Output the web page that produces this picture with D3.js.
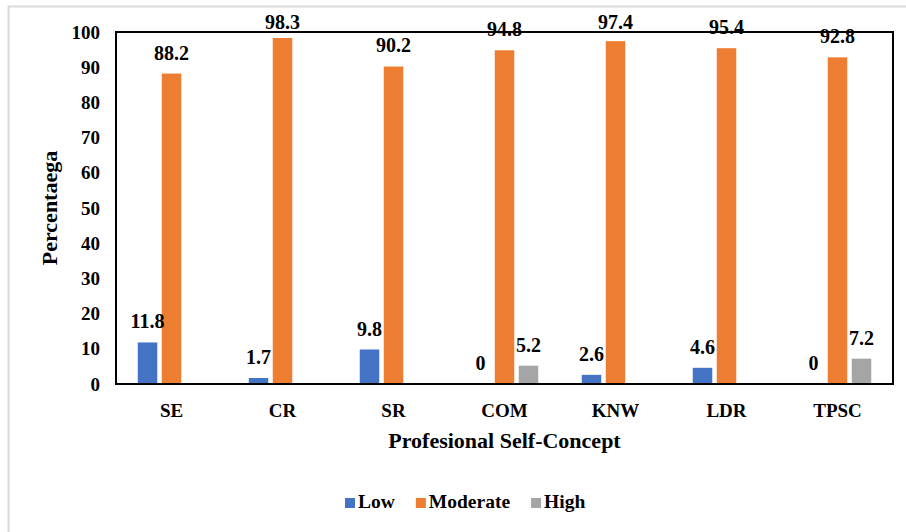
<!DOCTYPE html>
<html>
<head>
<meta charset="utf-8">
<script src="https://cdn.jsdelivr.net/npm/d3@7"></script>
<style>
  body { margin: 0; background: #fff; }
</style>
</head>
<body>
<svg id="chart"></svg>
<script>
'use strict';
// chart values
var categories = ['SE', 'CR', 'SR', 'COM', 'KNW', 'LDR', 'TPSC'];
var series = ['Low', 'Moderate', 'High'];
var lowValues = [11.8, 1.7, 9.8, 0, 2.6, 4.6, 0];
var moderateValues = [88.2, 98.3, 90.2, 94.8, 97.4, 95.4, 92.8];
var highValues = [null, null, null, 5.2, null, null, 7.2];
var yTicks = [0, 10, 20, 30, 40, 50, 60, 70, 80, 90, 100];
var colors = ['#4472C4', '#ED7D31', '#A5A5A5'];

var FONT = '"Liberation Serif", serif';

var canvasWidth = 906;
var canvasHeight = 532;
var margin = {top: 32, right: 13, bottom: 148, left: 116};
var width = canvasWidth - margin.left - margin.right;
var height = canvasHeight - margin.top - margin.bottom;

var svg = d3.select('#chart')
    .attr('width', canvasWidth)
    .attr('height', canvasHeight);

function txt(sel, size) {
    return sel.style('font-family', FONT)
        .style('font-weight', 'bold')
        .style('font-size', size + 'px')
        .attr('fill', '#000');
}

// light outer frame
svg.append('path')
    .attr('d', 'M8.5,' + canvasHeight + 'V6.5H' + canvasWidth)
    .attr('fill', 'none')
    .attr('stroke', '#d9d9d9')
    .attr('stroke-width', 2);

var g = svg.append('g')
    .attr('transform', 'translate(' + margin.left + ',' + margin.top + ')');

var x0 = d3.scaleBand()
    .domain(categories)
    .range([0, width])
    .paddingInner(0.392)
    .paddingOuter(0.196);
var x1 = d3.scaleBand()
    .domain(series)
    .range([0, x0.bandwidth()])
    .paddingInner(0.1875);
var y = d3.scaleLinear()
    .domain([0, 100])
    .range([height, 0]);

var rows = categories.map(function (c, i) {
    return {cat: c, values: [lowValues[i], moderateValues[i], highValues[i]]};
});

// y tick labels
txt(g.selectAll('.ytick')
    .data(yTicks)
    .enter()
    .append('text')
    .attr('class', 'ytick')
    .attr('x', -16)
    .attr('y', function (d) { return y(d); })
    .attr('dy', '0.35em')
    .attr('text-anchor', 'end'), 19)
    .text(function (d) { return d; });

// bars
var groups = g.selectAll('.grp')
    .data(rows)
    .enter()
    .append('g')
    .attr('class', 'grp')
    .attr('transform', function (d) { return 'translate(' + x0(d.cat) + ',0)'; });

function cells(d) {
    return d.values.map(function (v, i) { return {s: series[i], v: v, i: i}; })
        .filter(function (e) { return e.v !== null; });
}

groups.selectAll('rect')
    .data(cells)
    .enter()
    .append('rect')
    .attr('x', function (d) { return x1(d.s); })
    .attr('y', function (d) { return y(d.v); })
    .attr('width', x1.bandwidth())
    .attr('height', function (d) { return height - y(d.v); })
    .attr('fill', function (d) { return colors[d.i]; });

txt(groups.selectAll('.lbl')
    .data(cells)
    .enter()
    .append('text')
    .attr('class', 'lbl')
    .attr('x', function (d) { return x1(d.s) + x1.bandwidth() / 2; })
    .attr('y', function (d) { return Math.max(y(d.v) - 14, -3); })
    .attr('text-anchor', 'middle'), 20)
    .text(function (d) { return d.v; });

// plot box
g.append('rect')
    .attr('x', 0)
    .attr('y', 0)
    .attr('width', width)
    .attr('height', height)
    .attr('fill', 'none')
    .attr('stroke', '#000')
    .attr('stroke-width', 2);

// category labels
txt(g.selectAll('.xlbl')
    .data(categories)
    .enter()
    .append('text')
    .attr('class', 'xlbl')
    .attr('x', function (d) { return x0(d) + x0.bandwidth() / 2; })
    .attr('y', height + 33)
    .attr('text-anchor', 'middle'), 19)
    .text(function (d) { return d; });

// axis titles
txt(g.append('text')
    .attr('x', width / 2)
    .attr('y', height + 64)
    .attr('text-anchor', 'middle'), 22)
    .text('Profesional Self-Concept');

txt(svg.append('text')
    .attr('transform', 'translate(57,' + (margin.top + height / 2) + ') rotate(-90)')
    .attr('text-anchor', 'middle'), 22)
    .text('Percentaega');

// legend
var legend = svg.append('g').attr('transform', 'translate(345,508)');
var lx = 0;
series.forEach(function (s, i) {
    legend.append('rect')
        .attr('x', lx)
        .attr('y', -10)
        .attr('width', 10)
        .attr('height', 10)
        .attr('fill', colors[i]);
    var t = txt(legend.append('text')
        .attr('x', lx + 13)
        .attr('y', 0), 19.5)
        .text(s);
    lx += 13 + t.node().getComputedTextLength() + 21;
});
</script>
</body>
</html>
